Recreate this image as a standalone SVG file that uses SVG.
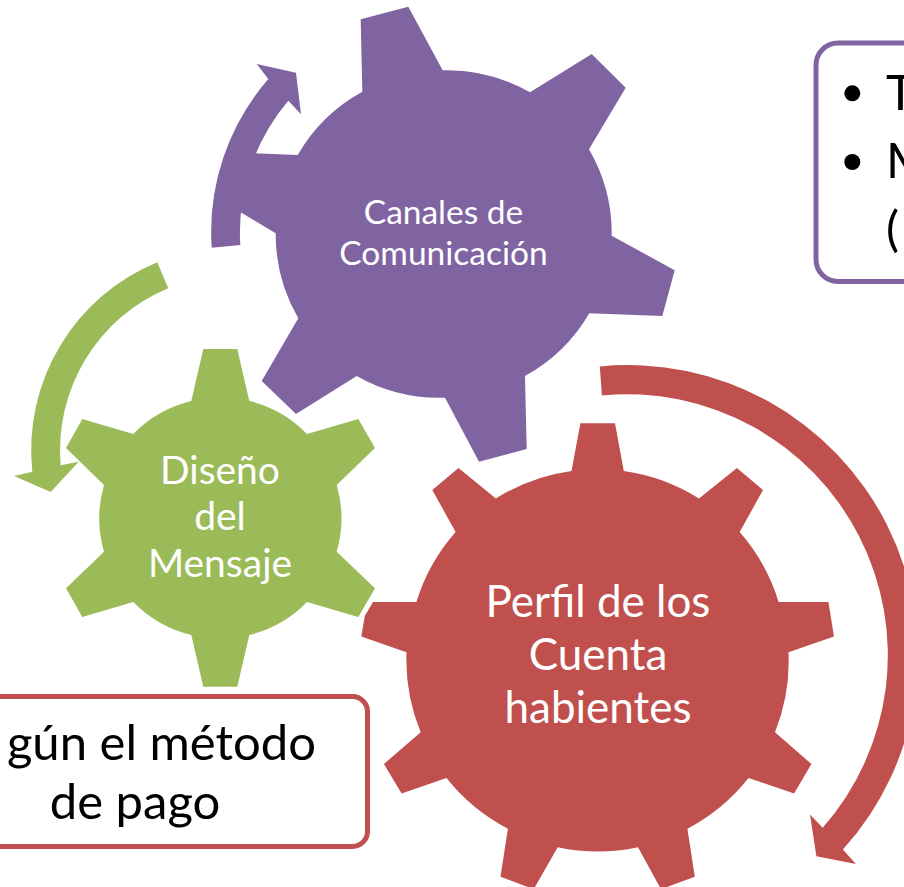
<svg xmlns="http://www.w3.org/2000/svg" width="904" height="887" viewBox="0 0 904 887">
<style>
.t{font-family:Lato,"Liberation Sans",sans-serif;text-anchor:middle}
.w{fill:#fff}
.k{fill:#000}
.p{fill:#8064A2}
.g{fill:#9BBB59}
.r{fill:#C0504D}
.b{fill:#fff;stroke-width:5}
</style>
<rect width="904" height="887" fill="#fff"/>
<g id="connectors">
<path id="arrow-purple" class="p" d="M211.7 247.7A233 233 0 0 1 268.3 79L256.7 64L296 72.7L301 114.3L288.3 100.7A204 204 0 0 0 240.3 245Z"/>
<path id="arrow-green" class="g" d="M157.3 262.3A203 203 0 0 0 32.3 471.7L14 476L50.7 492L78.7 461.7L60.7 465.3A175 175 0 0 1 168.3 288.3Z"/>
<path id="arrow-red" class="r" d="M599.8 366.4A290 290 0 0 1 842.9 849.6L855.9 864L816.4 856.3L810 814.6L822.7 827.7A261 261 0 0 0 601.9 395.4Z"/>
</g>
<g id="node-canales">
<path class="p" d="M362.3 91.7L360.7 19.3L408.3 6.7L442.7 70.3A167 167 0 0 1 530 92.3L591.7 54L625.7 87.7L589 149.3A167 167 0 0 1 611.7 235.7L674.7 270.3L662.3 316L589.3 313.3A167 167 0 0 1 525 376L526.7 449L479 461.7L445 397.7A167 167 0 0 1 356.7 376L296 414L261.7 381L298.3 318.3A167 167 0 0 1 275.7 233.3L214 196.3L227 152L297.7 155A167 167 0 0 1 362.3 91.7Z"/>
<text class="t w" font-size="33.5" x="443.5" y="224">Canales de</text>
<text class="t w" font-size="33.5" x="443.5" y="265">Comunicación</text>
</g>
<g id="node-diseno">
<path class="g" d="M191.3 401L203.3 349L237.3 349L249.3 401A120 120 0 0 1 307 434L358.3 419L375 448L336.7 485A120 120 0 0 1 336.7 551.7L375 588.3L358.3 617L307 602A120 120 0 0 1 249.3 635L237.3 686.7L203.3 686.7L191.3 635A120 120 0 0 1 133.3 602L82.3 617L66 588.3L104 551.7A120 120 0 0 1 104 485L66 448L82.3 419L133.3 434A120 120 0 0 1 191.3 401Z"/>
<text class="t w" font-size="39" x="220" y="484">Diseño</text>
<text class="t w" font-size="39" x="220" y="530">del</text>
<text class="t w" font-size="39" x="220" y="577">Mensaje</text>
</g>
<g id="node-perfil">
<path class="r" d="M571.5 470.9L580.4 423.2L615 423.2L623.8 470.9A191 191 0 0 1 699 498.4L736.9 467.9L763 490L739.7 532A191 191 0 0 1 778.6 601.9L828.4 601.9L834 636.5L788.5 652.3A191 191 0 0 1 775 732.3L811.4 763.9L794.1 793.4L748.5 778A191 191 0 0 1 687.4 828.7L694.8 876.8L661 889.2L638 847.2A191 191 0 0 1 557.7 847.2L533.7 889.2L500.5 876.8L507.9 828.7A191 191 0 0 1 446.5 778L401.6 793.4L383.9 763.9L420.7 732.3A191 191 0 0 1 406.5 652.3L361.3 636.5L364.8 616L373 601.9L416.4 601.9A191 191 0 0 1 455.6 532L432.3 490L458.5 467.9L495.9 498.4A191 191 0 0 1 571.5 470.9Z"/>
<text class="t w" font-size="44" x="598" y="617">Perfil de los</text>
<text class="t w" font-size="44" x="598" y="670">Cuenta</text>
<text class="t w" font-size="44" x="598" y="723">habientes</text>
</g>
<g id="note-purple">
<rect class="b" x="816" y="43" width="140" height="238.5" rx="22" stroke="#8064A2"/>
<circle class="k" cx="852.3" cy="93.3" r="8"/>
<circle class="k" cx="852.3" cy="162" r="8"/>
<text class="t k" style="text-anchor:start" font-size="49" x="886" y="110">T</text>
<text class="t k" style="text-anchor:start" font-size="49" x="886" y="178">M</text>
<text class="t k" style="text-anchor:start" font-size="49" x="886" y="246">(</text>
</g>
<g id="note-red">
<rect class="b" x="-60" y="696.5" width="427.5" height="150" rx="15" stroke="#C0504D"/>
<text class="t k" style="text-anchor:end" font-size="49" x="316" y="760">gún el método</text>
<text class="t k" font-size="49" x="135" y="819">de pago</text>
</g>
</svg>
